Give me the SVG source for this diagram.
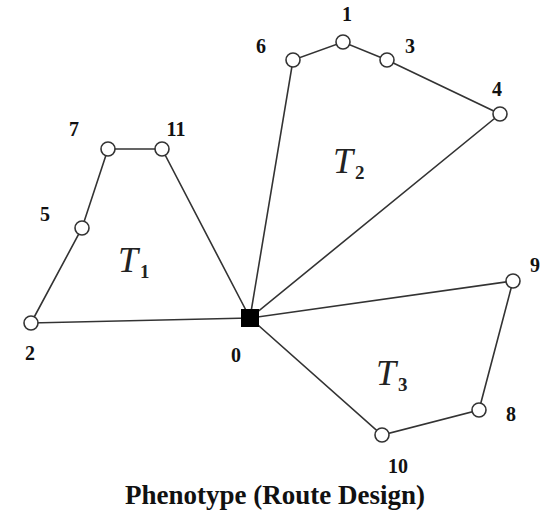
<svg xmlns="http://www.w3.org/2000/svg" width="547" height="516" viewBox="0 0 547 516">
<style>
.n{fill:#fff;stroke:#333;stroke-width:1.6}
.e{stroke:#333;stroke-width:1.6;fill:none}
.l{font-family:"Liberation Serif",serif;font-weight:bold;font-size:20px;fill:#111;text-anchor:middle}
.t{font-family:"Liberation Serif",serif;font-style:italic;font-size:36px;fill:#222;text-anchor:middle}
.s{font-family:"Liberation Serif",serif;font-weight:bold;font-size:19px;fill:#222}
</style>
<rect width="547" height="516" fill="#fff"/>
<g id="connectors">
<polyline class="e" points="250,318 31,323 82,228 108,149 162,149 250,318"/>
<polyline class="e" points="250,318 293,60 343,42 387,60 500,114 250,318"/>
<polyline class="e" points="250,318 513,281 479,410 382,435 250,318"/>
</g>
<g id="node0"><rect x="241" y="309" width="18" height="18" fill="#000"/><text class="l" x="236" y="362">0</text></g>
<g id="node1"><circle class="n" cx="343" cy="42" r="7"/><text class="l" x="347" y="21">1</text></g>
<g id="node2"><circle class="n" cx="31" cy="323" r="7"/><text class="l" x="30" y="360">2</text></g>
<g id="node3"><circle class="n" cx="387" cy="60" r="7"/><text class="l" x="410" y="53">3</text></g>
<g id="node4"><circle class="n" cx="500" cy="114" r="7"/><text class="l" x="497" y="96">4</text></g>
<g id="node5"><circle class="n" cx="82" cy="228" r="7"/><text class="l" x="45" y="221">5</text></g>
<g id="node6"><circle class="n" cx="293" cy="60" r="7"/><text class="l" x="261" y="53">6</text></g>
<g id="node7"><circle class="n" cx="108" cy="149" r="7"/><text class="l" x="74" y="136">7</text></g>
<g id="node8"><circle class="n" cx="479" cy="410" r="7"/><text class="l" x="511" y="421">8</text></g>
<g id="node9"><circle class="n" cx="513" cy="281" r="7"/><text class="l" x="535" y="272">9</text></g>
<g id="node10"><circle class="n" cx="382" cy="435" r="7"/><text class="l" x="398" y="473">10</text></g>
<g id="node11"><circle class="n" cx="162" cy="149" r="7"/><text class="l" x="176" y="136">11</text></g>
<g id="tau1"><text class="t" x="128" y="272">T</text><text class="s" x="140" y="278">1</text></g>
<g id="tau2"><text class="t" x="343" y="173">T</text><text class="s" x="355" y="179">2</text></g>
<g id="tau3"><text class="t" x="386" y="385">T</text><text class="s" x="398" y="391">3</text></g>
<text x="275" y="504" style="font-family:'Liberation Serif',serif;font-weight:bold;font-size:27px;fill:#111;text-anchor:middle">Phenotype (Route Design)</text>
</svg>
